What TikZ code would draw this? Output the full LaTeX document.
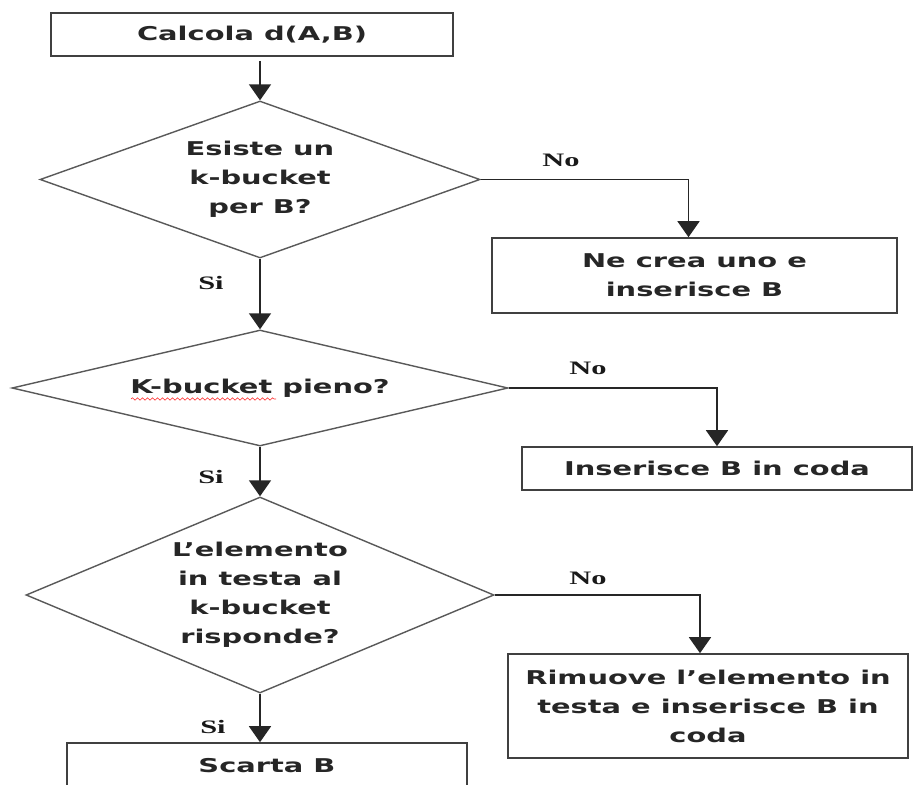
\documentclass[tikz,border=0pt]{standalone}
\usepackage{fontspec}
\usetikzlibrary{shapes.geometric,arrows.meta,decorations.pathmorphing}
\newfontfamily\boxfont[FakeStretch=1.52]{DejaVu Sans}
\newfontfamily\lblfont[FakeStretch=1.6]{Liberation Serif}
\tikzset{
  every node/.style={inner sep=0pt},
  txt/.style={font=\fontsize{19}{29}\selectfont\boxfont\bfseries, align=center, text=black!85},
  procbox/.style={txt, draw=black!75, line width=1.6pt, rectangle},
  decision/.style={txt, draw=black!65, line width=1.4pt, diamond},
  flow/.style={draw=black!85, line width=1.6pt, -{Triangle[width=22pt,length=16pt]}},
  lbl/.style={font=\fontsize{19}{21}\selectfont\lblfont\bfseries, text=black!90},
}
\begin{document}
\begin{tikzpicture}[x=1pt,y=-1pt]
\useasboundingbox (0,0) rectangle (915,784);
\clip (0,0) rectangle (915,784);
\fill[white] (0,0) rectangle (915,784);

\node[procbox, minimum width=402pt, minimum height=43pt] (calc) at (252,34.5) {Calcola d(A,B)};
\node[decision, shape aspect=2.5, minimum width=440pt, minimum height=157pt] (d1) at (260,179.5) {Esiste un\\k-bucket\\per B?};
\node[procbox, minimum width=405pt, minimum height=75pt] (crea) at (694.5,275.5) {Ne crea uno e\\inserisce B};
\node[decision, shape aspect=4, minimum width=496pt, minimum height=116pt] (d2) at (260,388) {K-bucket pieno?};
\node[procbox, minimum width=390pt, minimum height=43pt] (ins) at (717,468.5) {Inserisce B in coda};
\node[decision, shape aspect=2.2, minimum width=468pt, minimum height=196pt] (d3) at (260,595) {L’elemento\\in testa al\\k-bucket\\risponde?};
\node[procbox, minimum width=400pt, minimum height=104pt] (rim) at (708,706) {Rimuove l’elemento in\\testa e inserisce B in\\coda};
\node[procbox, minimum width=400pt, minimum height=46pt] (scarta) at (267,766) {Scarta B};

% spell-check squiggle under "K-bucket"
\coordinate (sq1) at (131,399);
\coordinate (sq2) at (276,399);
\draw[red!80, line width=0.6pt, decorate, decoration={snake, amplitude=1.2pt, segment length=5pt}] (sq1) -- (sq2);

\coordinate (c1) at (260,61);
\draw[flow] (c1) -- (d1.north);
\draw[flow] (d1.east) -| ([xshift=-6pt]crea.north);
\draw[flow] (d1.south) -- (d2.north);
\draw[flow] (d2.east) -| (ins.north);
\draw[flow] (d2.south) -- (d3.north);
\draw[flow] (d3.east) -| ([xshift=-8pt]rim.north);
\draw[flow] (d3.south) -- (d3.south |- scarta.north);

\node[lbl] (no1) at (561,160) {No};
\node[lbl] (no2) at (588,368) {No};
\node[lbl] (no3) at (588,578) {No};
\node[lbl] (si1) at (211,283) {Si};
\node[lbl] (si2) at (211,477) {Si};
\node[lbl] (si3) at (213,727) {Si};
\end{tikzpicture}
\end{document}
